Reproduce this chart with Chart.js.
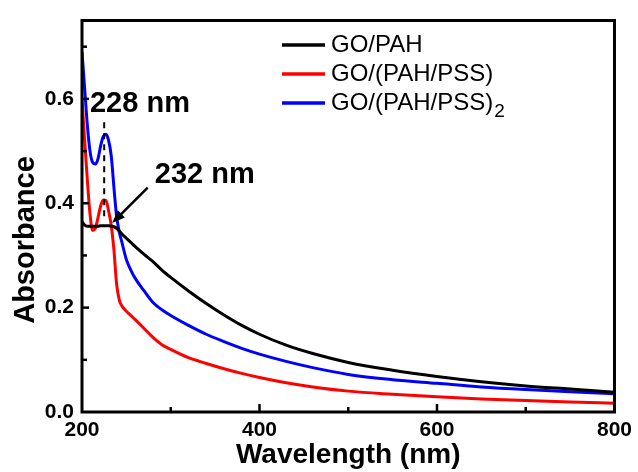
<!DOCTYPE html>
<html>
<head>
<meta charset="utf-8">
<script src="https://cdn.jsdelivr.net/npm/chart.js@4/dist/chart.umd.min.js"></script>
<style>
  html, body { margin: 0; padding: 0; background: #fff; }
  #wrap { width: 638px; height: 472px; }
</style>
</head>
<body>
<div id="wrap"><canvas id="grafica" width="638" height="472"></canvas></div>
<script>
// Longitud de onda (nm) y absorbancia de cada muestra
const wavelengths = [200, 203, 206, 209, 212, 215, 218, 221, 224, 227, 230, 233, 236, 239, 242, 245, 250, 255, 260, 270, 280, 290, 300, 320, 340, 360, 380, 400, 430, 460, 500, 550, 600, 650, 700, 750, 800];
const absGoPah = [0.365, 0.358, 0.356, 0.356, 0.356, 0.356, 0.356, 0.357, 0.357, 0.357, 0.357, 0.356, 0.355, 0.352, 0.347, 0.341, 0.333, 0.325, 0.317, 0.302, 0.288, 0.272, 0.258, 0.232, 0.208, 0.186, 0.166, 0.149, 0.128, 0.112, 0.095, 0.080, 0.068, 0.058, 0.050, 0.044, 0.038];
const absGoPahPss = [0.600, 0.520, 0.445, 0.380, 0.348, 0.352, 0.372, 0.395, 0.406, 0.405, 0.385, 0.357, 0.310, 0.245, 0.215, 0.203, 0.193, 0.185, 0.177, 0.160, 0.143, 0.129, 0.120, 0.104, 0.093, 0.083, 0.074, 0.066, 0.056, 0.048, 0.040, 0.034, 0.029, 0.025, 0.022, 0.019, 0.017];
const absGoPahPss2 = [0.690, 0.620, 0.550, 0.500, 0.478, 0.475, 0.485, 0.510, 0.528, 0.532, 0.520, 0.490, 0.430, 0.375, 0.345, 0.325, 0.292, 0.272, 0.256, 0.232, 0.210, 0.196, 0.185, 0.166, 0.149, 0.135, 0.122, 0.111, 0.097, 0.085, 0.072, 0.062, 0.055, 0.048, 0.043, 0.039, 0.035];

const seriesNames = ['GO/PAH', 'GO/(PAH/PSS)', 'GO/(PAH/PSS)'];
const seriesSubs = ['', '', '2'];
const seriesColors = ['#000000', '#ff0000', '#0000ff'];
const seriesValues = [absGoPah, absGoPahPss, absGoPahPss2];

const yTicksLabeled = [0, 0.2, 0.4, 0.6];
const xTicksLabeled = [200, 400, 600, 800];

// Anotaciones (en unidades de datos)
const peakLabel = '228 nm';
const peakLine = 225;
const shoulderLabel = '232 nm';

const FONT = '"Liberation Sans", Arial, sans-serif';

const marcas = {
    id: 'marcas',
    afterDraw(chart) {
        const { ctx, chartArea: a, scales: { x, y } } = chart;
        ctx.save();
        ctx.setLineDash([]);
        ctx.strokeStyle = '#000';
        ctx.fillStyle = '#000';

        // marco
        ctx.lineWidth = 3;
        ctx.lineJoin = 'miter';
        ctx.beginPath();
        ctx.moveTo(a.left, a.top);
        ctx.lineTo(a.right, a.top);
        ctx.lineTo(a.right, a.bottom);
        ctx.lineTo(a.left, a.bottom);
        ctx.closePath();
        ctx.stroke();

        // ticks hacia dentro
        ctx.lineWidth = 2.5;
        y.ticks.forEach(t => {
            const n = Math.round(t.value * 10);
            if (Math.abs(t.value * 10 - n) > 1e-6 || n === 0) return;
            const len = n % 2 === 0 ? 7 : 5;
            const py = y.getPixelForValue(t.value);
            ctx.beginPath();
            ctx.moveTo(a.left, py);
            ctx.lineTo(a.left + len, py);
            ctx.stroke();
        });
        x.ticks.forEach(t => {
            if (t.value <= x.min || t.value >= x.max) return;
            const len = t.value % 200 === 0 ? 8 : 5;
            const px = x.getPixelForValue(t.value);
            ctx.beginPath();
            ctx.moveTo(px, a.bottom);
            ctx.lineTo(px, a.bottom - len);
            ctx.stroke();
        });

        // título del eje y
        ctx.save();
        ctx.translate(26, 240);
        ctx.rotate(-Math.PI / 2);
        ctx.textAlign = 'center';
        ctx.textBaseline = 'middle';
        ctx.font = 'bold 29px ' + FONT;
        ctx.fillText('Absorbance', 0, 0);
        ctx.restore();

        // leyenda
        ctx.textBaseline = 'middle';
        ctx.textAlign = 'left';
        chart.data.datasets.forEach((ds, i) => {
            const ly = 45 + i * 29;
            ctx.strokeStyle = ds.borderColor;
            ctx.lineWidth = 3.5;
            ctx.beginPath();
            ctx.moveTo(282, ly);
            ctx.lineTo(325, ly);
            ctx.stroke();
            ctx.fillStyle = '#000';
            ctx.font = '24px ' + FONT;
            ctx.fillText(ds.label, 331, ly);
            if (seriesSubs[i]) {
                const w = ctx.measureText(ds.label).width;
                ctx.font = '19px ' + FONT;
                ctx.fillText(seriesSubs[i], 331 + w + 1, ly + 9);
            }
        });

        // anotaciones
        ctx.fillStyle = '#000';
        ctx.font = 'bold 29px ' + FONT;
        ctx.fillText(peakLabel, x.getPixelForValue(209), y.getPixelForValue(0.59));
        ctx.fillText(shoulderLabel, x.getPixelForValue(282), y.getPixelForValue(0.455));

        // línea discontinua del pico
        ctx.strokeStyle = '#000';
        ctx.lineWidth = 2;
        ctx.setLineDash([6, 5]);
        const dx = x.getPixelForValue(peakLine);
        ctx.beginPath();
        ctx.moveTo(dx, y.getPixelForValue(0.555));
        ctx.lineTo(dx, y.getPixelForValue(0.37));
        ctx.stroke();
        ctx.setLineDash([]);

        // flecha hacia 232 nm
        const x0 = x.getPixelForValue(274), y0 = y.getPixelForValue(0.43);
        const x1 = x.getPixelForValue(234), y1 = y.getPixelForValue(0.362);
        const ang = Math.atan2(y1 - y0, x1 - x0);
        ctx.lineWidth = 2.5;
        ctx.beginPath();
        ctx.moveTo(x0, y0);
        ctx.lineTo(x1 - 6 * Math.cos(ang), y1 - 6 * Math.sin(ang));
        ctx.stroke();
        ctx.beginPath();
        ctx.moveTo(x1, y1);
        ctx.lineTo(x1 - 13 * Math.cos(ang) + 5 * Math.sin(ang), y1 - 13 * Math.sin(ang) - 5 * Math.cos(ang));
        ctx.lineTo(x1 - 13 * Math.cos(ang) - 5 * Math.sin(ang), y1 - 13 * Math.sin(ang) + 5 * Math.cos(ang));
        ctx.closePath();
        ctx.fill();

        ctx.restore();
    }
};

const ctx = document.getElementById('grafica').getContext('2d');
new Chart(ctx, {
    type: 'line',
    data: {
        datasets: seriesNames.map((name, i) => ({
            label: name,
            data: wavelengths.map((w, j) => ({ x: w, y: seriesValues[i][j] })),
            borderColor: seriesColors[i],
            backgroundColor: seriesColors[i],
            borderWidth: 3,
            pointRadius: 0,
            cubicInterpolationMode: 'monotone',
            fill: false
        }))
    },
    options: {
        responsive: false,
        animation: false,
        devicePixelRatio: 1,
        layout: { padding: { left: 0, top: 13, right: 21, bottom: 0 } },
        plugins: {
            legend: { display: false },
            tooltip: { enabled: false }
        },
        scales: {
            x: {
                type: 'linear',
                min: 200,
                max: 800,
                afterFit: s => { s.height = 60; },
                grid: { display: false, drawTicks: false },
                border: { display: false },
                ticks: {
                    stepSize: 100,
                    autoSkip: false,
                    maxRotation: 0,
                    padding: 6,
                    color: '#000',
                    font: { family: FONT, size: 21, weight: 'bold' },
                    callback: v => xTicksLabeled.includes(v) ? String(v) : ''
                },
                title: {
                    display: true,
                    text: 'Wavelength (nm)',
                    color: '#000',
                    font: { family: FONT, size: 28, weight: 'bold' },
                    padding: { top: 0, bottom: 0 }
                }
            },
            y: {
                min: 0,
                max: 0.75,
                afterFit: s => { s.width = 82; },
                grid: { display: false, drawTicks: false },
                border: { display: false },
                ticks: {
                    stepSize: 0.1,
                    autoSkip: false,
                    padding: 8,
                    color: '#000',
                    font: { family: FONT, size: 21, weight: 'bold' },
                    callback: v => yTicksLabeled.some(t => Math.abs(t - v) < 1e-6) ? v.toFixed(1) : ''
                }
            }
        }
    },
    plugins: [marcas]
});
</script>
</body>
</html>
